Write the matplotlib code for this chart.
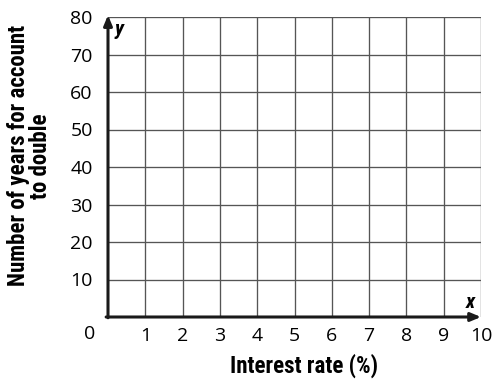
import matplotlib
matplotlib.use("Agg")
import matplotlib.pyplot as plt
from matplotlib import font_manager

# Axis ranges and tick values
x_ticks = [1, 2, 3, 4, 5, 6, 7, 8, 9, 10]
y_ticks = [10, 20, 30, 40, 50, 60, 70, 80]
x_max = 10
y_max = 80
x_label = "Interest rate (%)"
y_label = "Number of years for account\nto double"

names = {f.name for f in font_manager.fontManager.ttflist}
label_font = "DejaVu Sans"
for cand in ["Roboto Condensed", "Liberation Sans Narrow", "Open Sans Condensed",
             "Noto Sans Condensed", "DejaVu Sans Condensed"]:
    if cand in names:
        label_font = cand
        break
tick_font = "Open Sans"
label_kw = dict(fontfamily=label_font, fontweight="black", fontstretch="condensed")

fig = plt.figure(figsize=(4.93, 3.80), dpi=100)
ax = fig.add_axes([108 / 493, 63 / 380, 373 / 493, 300 / 380])
ax.set_xlim(0, x_max)
ax.set_ylim(0, y_max)

grid_color = "#555555"
for xv in x_ticks:
    ax.axvline(xv, color=grid_color, lw=0.95, zorder=1)
for yv in y_ticks:
    ax.axhline(yv, color=grid_color, lw=0.95, zorder=1)

for s in ax.spines.values():
    s.set_visible(False)

ax.set_xticks(x_ticks)
ax.set_yticks(y_ticks)
ax.set_xticklabels([str(v) for v in x_ticks], fontfamily=tick_font, fontsize=14)
ax.set_yticklabels([str(v) for v in y_ticks], fontfamily=tick_font, fontsize=14)
ax.tick_params(axis="both", length=0)
ax.tick_params(axis="x", pad=7)
ax.tick_params(axis="y", pad=11)

# Origin label
ax.text(-0.5, -4.6, "0", ha="center", va="center", fontfamily=tick_font,
        fontsize=14, clip_on=False)

# Axes drawn as arrows
arrow = dict(arrowstyle="-|>,head_length=0.6,head_width=0.25", color="#1a1a1a", lw=2.2,
             shrinkA=0, shrinkB=0)
ax.annotate("", xy=(0, y_max + 0.5), xytext=(0, -0.2), arrowprops=arrow,
            annotation_clip=False, zorder=5)
ax.annotate("", xy=(x_max, 0), xytext=(-0.05, 0), arrowprops=arrow,
            annotation_clip=False, zorder=5)

ax.text(0.3, 76.6, "y", fontsize=15, style="italic", ha="center", va="center", **label_kw)
ax.text(9.7, 4.0, "x", fontsize=15, style="italic", ha="center", va="center", **label_kw)

ax.set_xlabel(x_label, fontsize=16.5, va="center", **label_kw)
ax.xaxis.set_label_coords(0.525, -0.163)
ax.set_ylabel(y_label, fontsize=16.5, linespacing=0.95, va="center", **label_kw)
ax.yaxis.set_label_coords(-0.21, 0.537)

fig.savefig("out.png", dpi=100)
